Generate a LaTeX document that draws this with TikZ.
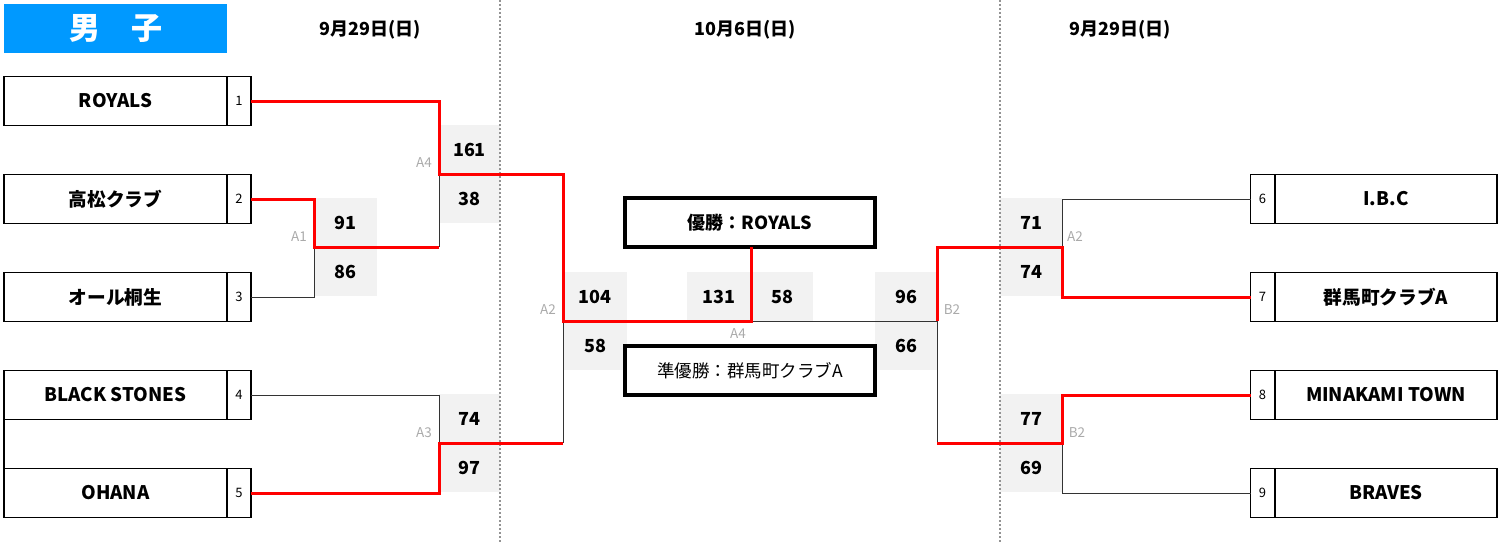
\documentclass[tikz,border=0pt]{standalone}
\usepackage{fontspec}
\setmainfont{Noto Sans CJK JP}
\definecolor{hdrblue}{HTML}{0099FF}
\definecolor{scorebg}{HTML}{F2F2F2}
\definecolor{lblgray}{HTML}{AAAAAA}
\definecolor{winred}{HTML}{FF0000}
\definecolor{lossline}{HTML}{333333}
\tikzset{
  namebox/.style={draw=black,line width=1.3pt,minimum width=223pt,minimum height=49pt,inner sep=0pt,outer sep=0pt,font=\fontsize{18.7}{20}\selectfont\bfseries},
  numbox/.style={draw=black,line width=1.1pt,minimum width=24pt,minimum height=49pt,inner sep=0pt,outer sep=0pt,font=\fontsize{13}{15}\selectfont},
  scorebox/.style={fill=scorebg,minimum height=49pt,inner sep=0pt,outer sep=0pt,font=\fontsize{18}{20}\selectfont\bfseries},
  matchlbl/.style={text=lblgray,inner sep=0pt,font=\fontsize{13.5}{15}\selectfont},
  datelbl/.style={inner sep=0pt,font=\fontsize{18}{20}\selectfont\bfseries},
  resultbox/.style={draw=black,line width=3.3pt,minimum width=250pt,minimum height=49pt,inner sep=0pt,outer sep=0pt},
  lossln/.style={draw=lossline,line width=1pt},
  winln/.style={draw=winred,line width=3pt,line join=miter},
  sepln/.style={draw=gray!85,line width=1.3pt,dash pattern=on 2pt off 2pt},
}
\begin{document}
\begin{tikzpicture}[x=1pt,y=-1pt]
\useasboundingbox (0,0) rectangle (1505,543);
% header
\node[fill=hdrblue,minimum width=223pt,minimum height=49pt,inner sep=0pt,text=white,font=\fontsize{31}{33}\selectfont\bfseries] (hdr) at (115.5,28.5) {男　子};
\node[datelbl] (d1) at (370,30) {9月29日(日)};
\node[datelbl] (d2) at (745,30) {10月6日(日)};
\node[datelbl] (d3) at (1120,30) {9月29日(日)};
% score boxes
\node[scorebox,minimum width=61pt] (s161) at (469.5,149.5) {161};
\node[scorebox,minimum width=61pt] (s38) at (469.5,198.5) {38};
\node[scorebox,minimum width=63pt] (s91) at (345.5,222.5) {91};
\node[scorebox,minimum width=63pt] (s86) at (345.5,271.5) {86};
\node[scorebox,minimum width=61pt] (s74a) at (469.5,418.5) {74};
\node[scorebox,minimum width=61pt] (s97) at (469.5,467.5) {97};
\node[scorebox,minimum width=64pt] (s104) at (595,296.5) {104};
\node[scorebox,minimum width=64pt] (s58a) at (595,345.5) {58};
\node[scorebox,minimum width=64pt] (s131) at (719,296.5) {131};
\node[scorebox,minimum width=62pt] (s58b) at (782,296.5) {58};
\node[scorebox,minimum width=62pt] (s96) at (906,296.5) {96};
\node[scorebox,minimum width=62pt] (s66) at (906,345.5) {66};
\node[scorebox,minimum width=62pt] (s71) at (1031,222.5) {71};
\node[scorebox,minimum width=62pt] (s74b) at (1031,271.5) {74};
\node[scorebox,minimum width=62pt] (s77) at (1031,418.5) {77};
\node[scorebox,minimum width=62pt] (s69) at (1031,467.5) {69};
% separators
\coordinate (sepAt) at (500,0); \coordinate (sepAb) at (500,543);
\coordinate (sepBt) at (1000,0); \coordinate (sepBb) at (1000,543);
\draw[sepln] (sepAt) -- (sepAb);
\draw[sepln] (sepBt) -- (sepBb);
% left teams
\node[namebox] (t1) at (115.5,101) {ROYALS};
\node[numbox] (n1) at (239,101) {1};
\node[namebox] (t2) at (115.5,199) {高松クラブ};
\node[numbox] (n2) at (239,199) {2};
\node[namebox] (t3) at (115.5,297) {オール桐生};
\node[numbox] (n3) at (239,297) {3};
\node[namebox] (t4) at (115.5,395) {BLACK STONES};
\node[numbox] (n4) at (239,395) {4};
\node[namebox] (t5) at (115.5,493) {OHANA};
\node[numbox] (n5) at (239,493) {5};
\draw[line width=1.3pt] (t4.south west) -- (t5.north west);
% right teams
\node[numbox] (n6) at (1262.5,199) {6};
\node[namebox,minimum width=222pt] (t6) at (1386,199) {I.B.C};
\node[numbox] (n7) at (1262.5,297) {7};
\node[namebox,minimum width=222pt] (t7) at (1386,297) {群馬町クラブA};
\node[numbox] (n8) at (1262.5,395) {8};
\node[namebox,minimum width=222pt] (t8) at (1386,395) {MINAKAMI TOWN};
\node[numbox] (n9) at (1262.5,493) {9};
\node[namebox,minimum width=222pt] (t9) at (1386,493) {BRAVES};
% result boxes
\node[resultbox,font=\fontsize{18}{20}\selectfont\bfseries] (champ) at (750,222.5) {優勝：ROYALS};
\node[resultbox,font=\fontsize{17.5}{20}\selectfont] (runner) at (750,370.5) {準優勝：群馬町クラブA};
% joints
\coordinate (a1t) at (314,199); \coordinate (a1m) at (314,247); \coordinate (a1b) at (314,297);
\coordinate (a4t) at (439,101); \coordinate (a4m) at (439,174); \coordinate (a4b) at (439,247);
\coordinate (a3t) at (439,395); \coordinate (a3m) at (439,443); \coordinate (a3b) at (439,493);
\coordinate (a2t) at (563,174); \coordinate (a2m) at (563,321); \coordinate (a2b) at (563,443);
\coordinate (fm) at (751,321);
\coordinate (b2t) at (937,247); \coordinate (b2m) at (937,321); \coordinate (b2b) at (937,443);
\coordinate (r2t) at (1062,199); \coordinate (r2m) at (1062,247); \coordinate (r2b) at (1062,297);
\coordinate (rbt) at (1062,395); \coordinate (rbm) at (1062,443); \coordinate (rbb) at (1062,493);
% losing lines
\draw[lossln] (n3.east) -- (a1b) -- (a1m);
\draw[lossln] (a4m) -- (a4b);
\draw[lossln] (n4.east) -- (a3t) -- (a3m);
\draw[lossln] (a2m) -- (a2b);
\draw[lossln] (fm) -- (b2m) -- (b2b);
\draw[lossln] (n6.west) -- (r2t) -- (r2m);
\draw[lossln] (n9.west) -- (rbb) -- (rbm);
% winning lines
\draw[winln] (n1.east) -- (a4t) -- (a4m) -- (a2t) -- (a2m) -- (fm) -- (champ.south -| fm);
\draw[winln] (n2.east) -- (a1t) -- (a1m) -- (a4b);
\draw[winln] (n5.east) -- (a3b) -- (a3m) -- (a2b);
\draw[winln] (n7.west) -- (r2b) -- (r2m) -- (b2t) -- (b2m);
\draw[winln] (n8.west) -- (rbt) -- (rbm) -- (b2b);
% match labels
\node[matchlbl] (lA4) at (424,163) {A4};
\node[matchlbl] (lA1) at (299,237) {A1};
\node[matchlbl] (lA3) at (424,433) {A3};
\node[matchlbl] (lA2) at (548,310) {A2};
\node[matchlbl] (lF) at (738,334) {A4};
\node[matchlbl] (lB2) at (952,310) {B2};
\node[matchlbl] (lA2r) at (1075,237) {A2};
\node[matchlbl] (lB2r) at (1077,433) {B2};
\end{tikzpicture}
\end{document}
